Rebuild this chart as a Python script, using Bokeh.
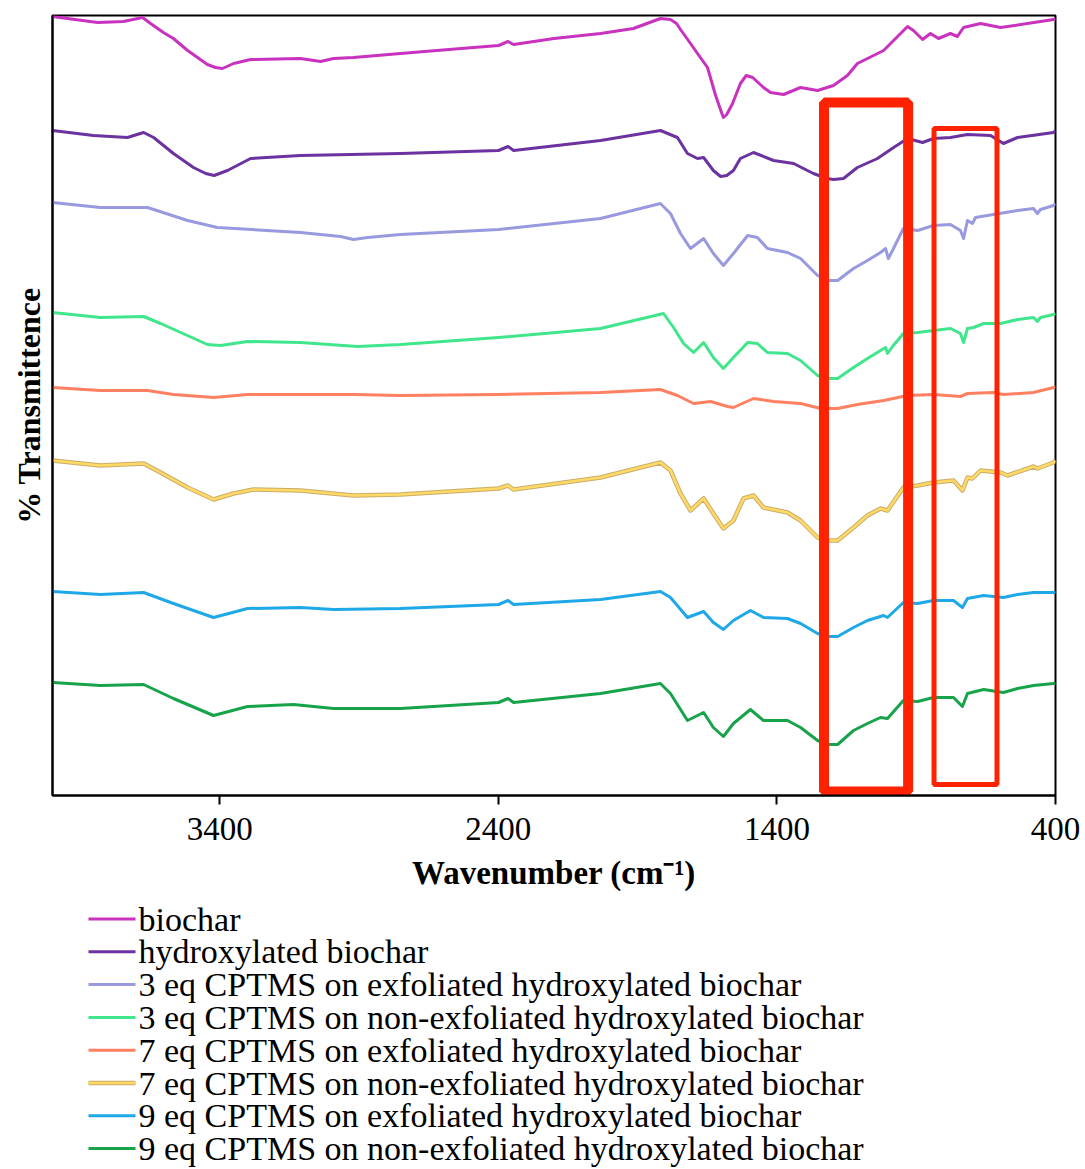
from bokeh.plotting import figure
from bokeh.models import Range1d, FixedTicker
from bokeh.layouts import column
from bokeh.embed import file_html
from bokeh.resources import INLINE
from bokeh.core.properties import value

# ---------------- data (wavenumber in cm-1, transmittance in arbitrary stacked units) -------------
series_labels = [
    "biochar",
    "hydroxylated biochar",
    "3 eq CPTMS on exfoliated hydroxylated biochar",
    "3 eq CPTMS on non-exfoliated hydroxylated biochar",
    "7 eq CPTMS on exfoliated hydroxylated biochar",
    "7 eq CPTMS on non-exfoliated hydroxylated biochar",
    "9 eq CPTMS on exfoliated hydroxylated biochar",
    "9 eq CPTMS on non-exfoliated hydroxylated biochar",
]
series_colors = ["#c832be", "#6b32a0", "#9999e0", "#40e68c",
                 "#ff8060", "#ffd966", "#1ea8e8", "#17a34a"]

wn_biochar = [4000, 3838, 3745, 3677, 3648, 3602, 3566, 3515, 3444, 3415, 3390, 3350, 3289, 3110, 3038,
              2991, 2920, 2751, 2577, 2399, 2365, 2345, 2200, 2033, 1915, 1818, 1782, 1760, 1746, 1710,
              1685, 1649, 1620, 1600, 1592, 1580, 1559, 1531, 1510, 1487, 1448, 1423, 1376, 1315, 1254,
              1197, 1147, 1111, 1017, 931, 910, 877, 849, 820, 777, 752, 730, 669, 597, 501, 407, 400]
t_biochar = [779, 773, 774, 778, 772, 763, 757, 745, 731, 728, 727, 732, 736, 737, 734,
             737, 738, 742, 746, 750, 754, 751, 757, 762, 767, 777, 776, 772, 766, 752,
             742, 728, 700, 684, 678, 681, 692, 712, 720, 718, 708, 703, 701, 708, 705,
             710, 720, 732, 745, 769, 765, 756, 762, 757, 762, 759, 768, 772, 768, 772, 776, 777]

wn_hydrox = [4000, 3853, 3731, 3673, 3637, 3566, 3494, 3450, 3420, 3372, 3289, 3110, 2751, 2399, 2365,
             2345, 2033, 1818, 1757, 1721, 1685, 1663, 1628, 1602, 1580, 1556, 1531, 1484, 1412, 1340,
             1269, 1220, 1197, 1161, 1111, 1039, 981, 931, 877, 838, 777, 716, 633, 587, 536, 407, 400]
t_hydrox = [665, 660, 658, 663, 658, 642, 628, 622, 620, 625, 637, 640, 642, 645, 649,
            645, 655, 665, 658, 642, 637, 638, 625, 619, 620, 625, 637, 643, 635, 632,
            622, 617, 616, 617, 628, 637, 648, 657, 653, 657, 658, 661, 660, 652, 658, 663, 665]

wn_3eq_exf = [4000, 3828, 3659, 3515, 3408, 3110, 2966, 2920, 2869, 2751, 2399, 2033, 1818, 1782,
              1746, 1710, 1663, 1628, 1592, 1556, 1505, 1470, 1434, 1362, 1315, 1254, 1215, 1182, 1125,
              1075, 1028, 1010, 1000, 985, 946, 895, 838, 777, 741, 730, 716, 698, 687, 623, 536,
              479, 465, 454, 407, 400]
t_3eq_exf = [593, 588, 588, 575, 568, 563, 559, 556, 558, 561, 566, 577, 592, 582,
             562, 547, 557, 542, 530, 542, 560, 558, 547, 543, 537, 520, 515, 515, 527,
             535, 543, 547, 537, 545, 567, 565, 570, 571, 565, 557, 575, 572, 578, 581, 585,
             587, 582, 586, 590, 592]

wn_3eq_non = [4000, 3828, 3673, 3612, 3444, 3397, 3300, 3110, 2905, 2751, 2399, 2033, 1807, 1771,
              1735, 1699, 1663, 1628, 1592, 1556, 1505, 1470, 1434, 1362, 1315, 1254, 1215, 1182, 1125,
              1075, 1028, 1010, 1003, 985, 946, 895, 838, 777, 741, 730, 716, 694, 658, 597, 536,
              479, 465, 454, 407, 400]
t_3eq_non = [483, 478, 479, 472, 451, 450, 454, 453, 449, 451, 458, 467, 482, 468,
             452, 443, 453, 438, 427, 438, 453, 452, 443, 442, 435, 420, 417, 417, 428,
             437, 445, 448, 442, 449, 462, 463, 465, 467, 462, 453, 467, 468, 472, 472, 476,
             478, 474, 478, 481, 482]

wn_7eq_exf = [4000, 3828, 3659, 3566, 3422, 3300, 3110, 2920, 2751, 2399, 2033, 1818, 1757, 1699,
              1638, 1577, 1556, 1484, 1412, 1315, 1243, 1182, 1111, 1017, 931, 838, 741, 716,
              623, 587, 479, 407, 400]
t_7eq_exf = [408, 405, 405, 401, 398, 401, 401, 401, 400, 401, 403, 406, 400, 392,
             394, 389, 388, 397, 394, 392, 387, 387, 391, 395, 400, 401, 399, 402,
             403, 401, 403, 408, 409]

wn_7eq_non = [4000, 3828, 3673, 3612, 3515, 3422, 3350, 3279, 3110, 2920, 2751, 2399, 2365, 2345,
              2033, 1818, 1782, 1746, 1710, 1663, 1628, 1592, 1556, 1520, 1484, 1448, 1362, 1315,
              1254, 1215, 1182, 1125, 1075, 1028, 1003, 946, 895, 838, 766, 734, 716, 698, 669, 597,
              572, 479, 465, 407, 400]
t_7eq_non = [335, 330, 332, 323, 308, 296, 302, 306, 305, 300, 301, 307, 310, 306,
             318, 333, 325, 302, 285, 297, 282, 267, 275, 297, 300, 288, 283, 275,
             258, 255, 255, 268, 280, 287, 285, 308, 310, 313, 315, 305, 318, 317, 325, 323,
             320, 329, 327, 333, 335]

wn_9eq_exf = [4000, 3828, 3673, 3566, 3422, 3300, 3110, 2991, 2751, 2399, 2365, 2345, 2033, 1818,
              1782, 1721, 1663, 1628, 1592, 1556, 1495, 1448, 1362, 1315, 1254, 1215, 1182, 1125, 1075,
              1017, 1003, 946, 895, 838, 766, 734, 716, 658, 587, 536, 479, 407, 400]
t_9eq_exf = [204, 201, 203, 192, 178, 187, 188, 186, 187, 191, 195, 191, 196, 204,
             198, 178, 184, 173, 166, 175, 185, 178, 177, 172, 162, 159, 159, 168, 175,
             180, 178, 193, 192, 195, 195, 188, 197, 200, 198, 201, 203, 203, 204]

wn_9eq_non = [4000, 3828, 3673, 3566, 3422, 3300, 3135, 2991, 2751, 2399, 2365, 2345, 2033, 1818,
              1782, 1721, 1663, 1628, 1592, 1556, 1495, 1448, 1362, 1315, 1254, 1215, 1182, 1125, 1075,
              1028, 1003, 946, 895, 838, 766, 734, 716, 658, 587, 536, 479, 407, 400]
t_9eq_non = [113, 110, 111, 97, 80, 89, 91, 87, 87, 93, 97, 93, 102, 112,
             102, 75, 83, 68, 59, 72, 86, 75, 75, 68, 55, 51, 51, 65, 72,
             78, 77, 95, 94, 98, 98, 89, 102, 106, 103, 107, 110, 112, 113]

series_wn = [wn_biochar, wn_hydrox, wn_3eq_exf, wn_3eq_non, wn_7eq_exf, wn_7eq_non, wn_9eq_exf, wn_9eq_non]
series_t = [t_biochar, t_hydrox, t_3eq_exf, t_3eq_non, t_7eq_exf, t_7eq_non, t_9eq_exf, t_9eq_non]

x_ticks = [3400, 2400, 1400, 400]

# highlighted wavenumber regions (left wn, right wn, bottom, top)
highlight_wide = (1231, 929, 4, 693)
highlight_narrow = (836, 610, 11, 667)

FONT = "Liberation Serif"
BOX_RED = "#ff2200"
YELLOW_EDGE = "#c9ad6a"

# ---------------- main plot ----------------
p = figure(width=1085, height=900, output_backend="svg", toolbar_location=None,
           x_range=Range1d(4000, 400), y_range=Range1d(0, 780),
           min_border_left=52, min_border_right=30, min_border_top=15, min_border_bottom=105)
p.xgrid.visible = False
p.ygrid.visible = False
p.outline_line_color = "black"
p.outline_line_width = 2
p.background_fill_color = "white"
p.border_fill_color = "white"

for i, (wn, t) in enumerate(zip(series_wn, series_t)):
    if i == 5:
        p.line(wn, t, line_color=YELLOW_EDGE, line_width=4.5, line_join="round")
        p.line(wn, t, line_color=series_colors[i], line_width=2.5, line_join="round")
    else:
        p.line(wn, t, line_color=series_colors[i], line_width=3, line_join="round")

for (l, r, b, t), w in ((highlight_wide, 10), (highlight_narrow, 5)):
    p.quad(left=[l], right=[r], bottom=[b], top=[t], fill_color=None,
           line_color=BOX_RED, line_width=w)

xa = p.xaxis[0]
xa.ticker = FixedTicker(ticks=x_ticks)
xa.minor_tick_line_color = None
xa.major_tick_in = 0
xa.major_tick_out = 9
xa.major_tick_line_width = 2
xa.axis_line_width = 2
xa.axis_line_color = "black"
xa.major_label_text_font = FONT
xa.major_label_text_font_size = "33px"
xa.major_label_text_color = "black"
xa.major_label_standoff = 13
xa.axis_label = "Wavenumber (cm\u207b\u00b9)"
xa.axis_label_text_font = FONT
xa.axis_label_text_font_size = "33px"
xa.axis_label_text_font_style = "bold"
xa.axis_label_text_color = "black"
xa.axis_label_standoff = 12

ya = p.yaxis[0]
ya.ticker = FixedTicker(ticks=[])
ya.minor_tick_line_color = None
ya.major_tick_line_color = None
ya.major_tick_in = 0
ya.major_tick_out = 0
ya.major_label_standoff = 0
ya.axis_line_width = 2
ya.axis_line_color = "black"
ya.axis_label = "% Transmittence"
ya.axis_label_text_font = FONT
ya.axis_label_text_font_size = "32px"
ya.axis_label_text_font_style = "bold"
ya.axis_label_text_color = "black"
ya.axis_label_standoff = 6

# ---------------- legend panel (frame spans same 52..1055 px as main plot) ----------------
lg = figure(width=1085, height=269, output_backend="svg", toolbar_location=None,
            x_range=Range1d(52, 1055), y_range=Range1d(269, 0),
            min_border_left=52, min_border_right=30,
            min_border_top=0, min_border_bottom=0)
lg.axis.visible = False
lg.xgrid.visible = False
lg.ygrid.visible = False
lg.outline_line_color = None

row_h = 32.8
row0 = 18.5
for i, (lab, col) in enumerate(zip(series_labels, series_colors)):
    yy = row0 + i * row_h
    if i == 5:
        lg.line([88, 135], [yy, yy], line_color=YELLOW_EDGE, line_width=4.5)
        lg.line([88, 135], [yy, yy], line_color=col, line_width=2.5)
    else:
        lg.line([88, 135], [yy, yy], line_color=col, line_width=3)
    lg.text(x=[138], y=[yy], text=[lab], text_font=value(FONT), text_font_size="34px",
            text_baseline="middle", text_align="left", text_color="black")

layout = column(p, lg, spacing=0)
open("out.html", "w").write(file_html(layout, INLINE))
